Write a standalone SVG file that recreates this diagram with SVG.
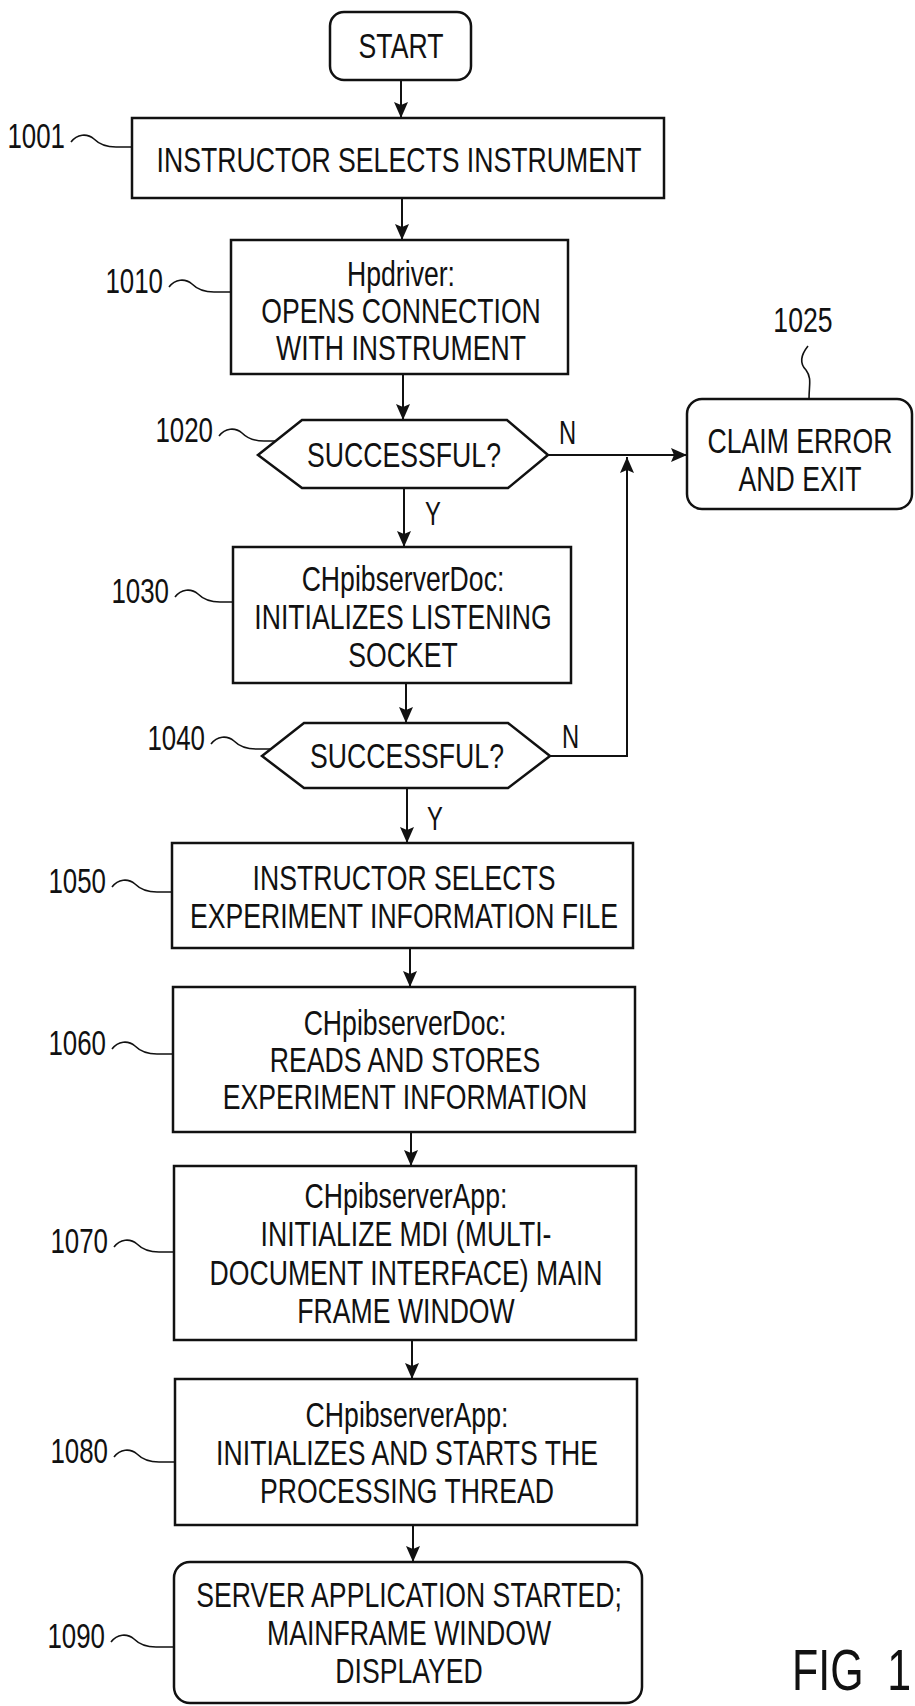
<svg xmlns="http://www.w3.org/2000/svg" width="915" height="1706" viewBox="0 0 915 1706">
<style>
.box{fill:#fff;stroke:#111;stroke-width:2.5}
.ln{fill:none;stroke:#111;stroke-width:2}
.cv{fill:none;stroke:#111;stroke-width:1.6}
.t{font-family:"Liberation Sans",Arial,sans-serif;font-size:36px;fill:#111;text-anchor:middle}
.lb{font-family:"Liberation Sans",Arial,sans-serif;font-size:35px;fill:#111;text-anchor:end}
.yn{font-family:"Liberation Sans",Arial,sans-serif;font-size:33px;fill:#111;text-anchor:start}
.fig{font-family:"Liberation Sans",Arial,sans-serif;font-size:58px;fill:#111;text-anchor:start}
</style>
<defs>
<marker id="ah" markerWidth="16" markerHeight="14" refX="16" refY="7" orient="auto" markerUnits="userSpaceOnUse">
<path d="M0,0 L16,7 L0,14 L3,7 Z" fill="#111"/>
</marker>
</defs>
<rect x="0" y="0" width="915" height="1706" fill="#fff"/>

<g id="connectors">
<line class="ln" x1="401" y1="80" x2="401" y2="118" marker-end="url(#ah)"/>
<line class="ln" x1="402" y1="198" x2="402" y2="240" marker-end="url(#ah)"/>
<line class="ln" x1="403" y1="374" x2="403" y2="420" marker-end="url(#ah)"/>
<line class="ln" x1="548" y1="455" x2="687" y2="455" marker-end="url(#ah)"/>
<line class="ln" x1="404" y1="488" x2="404" y2="547" marker-end="url(#ah)"/>
<line class="ln" x1="406" y1="683" x2="406" y2="723" marker-end="url(#ah)"/>
<polyline class="ln" points="550,756 627,756 627,457" marker-end="url(#ah)"/>
<line class="ln" x1="407" y1="788" x2="407" y2="843" marker-end="url(#ah)"/>
<line class="ln" x1="410" y1="948" x2="410" y2="987" marker-end="url(#ah)"/>
<line class="ln" x1="411" y1="1132" x2="411" y2="1166" marker-end="url(#ah)"/>
<line class="ln" x1="412" y1="1340" x2="412" y2="1379" marker-end="url(#ah)"/>
<line class="ln" x1="413" y1="1525" x2="413" y2="1562" marker-end="url(#ah)"/>
<text class="yn" transform="matrix(0.72 0 0 1 559 444)">N</text>
<text class="yn" transform="matrix(0.72 0 0 1 425 525)">Y</text>
<text class="yn" transform="matrix(0.72 0 0 1 562 748)">N</text>
<text class="yn" transform="matrix(0.72 0 0 1 427 830)">Y</text>
</g>

<g id="start">
<rect class="box" x="330" y="12" width="141" height="68" rx="14"/>
<text class="t" transform="matrix(0.74 0 0 1 401 58)">START</text>
</g>

<g id="n1001">
<rect class="box" x="132" y="118" width="532" height="80"/>
<text class="t" transform="matrix(0.74 0 0 1 399 172)">INSTRUCTOR SELECTS INSTRUMENT</text>
<text class="lb" transform="matrix(0.74 0 0 1 65 148)">1001</text>
<path class="cv" d="M71,142 c6,-8 16,-9 23,-3 c6,6 12,8 22,8 L132,147"/>
</g>

<g id="n1010">
<rect class="box" x="231" y="240" width="337" height="134"/>
<text class="t" transform="matrix(0.74 0 0 1 401 286)"><tspan x="0" y="0">Hpdriver:</tspan><tspan x="0" y="37">OPENS CONNECTION</tspan><tspan x="0" y="74">WITH INSTRUMENT</tspan></text>
<text class="lb" transform="matrix(0.74 0 0 1 163 293)">1010</text>
<path class="cv" d="M169,287 c6,-8 16,-9 23,-3 c6,6 12,8 22,8 L231,292"/>
</g>

<g id="n1020">
<polygon class="box" points="258,455 302,420 507,420 548,455 508,488 302,488"/>
<text class="t" transform="matrix(0.74 0 0 1 404 467)">SUCCESSFUL?</text>
<text class="lb" transform="matrix(0.74 0 0 1 213 442)">1020</text>
<path class="cv" d="M219,436 c6,-8 16,-9 23,-3 c6,6 12,8 22,8 L275,441"/>
</g>

<g id="n1025">
<rect class="box" x="687" y="399" width="225" height="110" rx="15"/>
<text class="t" transform="matrix(0.74 0 0 1 800 453)"><tspan x="0" y="0">CLAIM ERROR</tspan><tspan x="0" y="38">AND EXIT</tspan></text>
<text class="t" transform="matrix(0.74 0 0 1 803 332)">1025</text>
<path class="cv" d="M808,346 C800,356 800,364 806,370 C812,378 809,385 809,399"/>
</g>

<g id="n1030">
<rect class="box" x="233" y="547" width="338" height="136"/>
<text class="t" transform="matrix(0.74 0 0 1 403 591)"><tspan x="0" y="0">CHpibserverDoc:</tspan><tspan x="0" y="38">INITIALIZES LISTENING</tspan><tspan x="0" y="76">SOCKET</tspan></text>
<text class="lb" transform="matrix(0.74 0 0 1 169 603)">1030</text>
<path class="cv" d="M175,597 c6,-8 16,-9 23,-3 c6,6 12,8 22,8 L233,602"/>
</g>

<g id="n1040">
<polygon class="box" points="262,756 304,723 508,723 550,756 508,788 304,788"/>
<text class="t" transform="matrix(0.74 0 0 1 407 768)">SUCCESSFUL?</text>
<text class="lb" transform="matrix(0.74 0 0 1 205 750)">1040</text>
<path class="cv" d="M211,744 c6,-8 16,-9 23,-3 c6,6 12,8 22,8 L271,749"/>
</g>

<g id="n1050">
<rect class="box" x="172" y="843" width="461" height="105"/>
<text class="t" transform="matrix(0.74 0 0 1 404 890)"><tspan x="0" y="0">INSTRUCTOR SELECTS</tspan><tspan x="0" y="38">EXPERIMENT INFORMATION FILE</tspan></text>
<text class="lb" transform="matrix(0.74 0 0 1 106 893)">1050</text>
<path class="cv" d="M112,887 c6,-8 16,-9 23,-3 c6,6 12,8 22,8 L172,892"/>
</g>

<g id="n1060">
<rect class="box" x="173" y="987" width="462" height="145"/>
<text class="t" transform="matrix(0.74 0 0 1 405 1035)"><tspan x="0" y="0">CHpibserverDoc:</tspan><tspan x="0" y="37">READS AND STORES</tspan><tspan x="0" y="74">EXPERIMENT INFORMATION</tspan></text>
<text class="lb" transform="matrix(0.74 0 0 1 106 1055)">1060</text>
<path class="cv" d="M112,1049 c6,-8 16,-9 23,-3 c6,6 12,8 22,8 L173,1054"/>
</g>

<g id="n1070">
<rect class="box" x="174" y="1166" width="462" height="174"/>
<text class="t" transform="matrix(0.74 0 0 1 406 1208)"><tspan x="0" y="0">CHpibserverApp:</tspan><tspan x="0" y="38.5">INITIALIZE MDI (MULTI-</tspan><tspan x="0" y="77">DOCUMENT INTERFACE) MAIN</tspan><tspan x="0" y="115.5">FRAME WINDOW</tspan></text>
<text class="lb" transform="matrix(0.74 0 0 1 108 1253)">1070</text>
<path class="cv" d="M114,1247 c6,-8 16,-9 23,-3 c6,6 12,8 22,8 L174,1252"/>
</g>

<g id="n1080">
<rect class="box" x="175" y="1379" width="462" height="146"/>
<text class="t" transform="matrix(0.74 0 0 1 407 1427)"><tspan x="0" y="0">CHpibserverApp:</tspan><tspan x="0" y="38">INITIALIZES AND STARTS THE</tspan><tspan x="0" y="76">PROCESSING THREAD</tspan></text>
<text class="lb" transform="matrix(0.74 0 0 1 108 1463)">1080</text>
<path class="cv" d="M114,1457 c6,-8 16,-9 23,-3 c6,6 12,8 22,8 L175,1462"/>
</g>

<g id="n1090">
<rect class="box" x="174" y="1562" width="468" height="141" rx="16"/>
<text class="t" transform="matrix(0.74 0 0 1 409 1607)"><tspan x="0" y="0">SERVER APPLICATION STARTED;</tspan><tspan x="0" y="38">MAINFRAME WINDOW</tspan><tspan x="0" y="76">DISPLAYED</tspan></text>
<text class="lb" transform="matrix(0.74 0 0 1 105 1648)">1090</text>
<path class="cv" d="M111,1642 c6,-8 16,-9 23,-3 c6,6 12,8 22,8 L174,1647"/>
</g>

<g id="caption">
<text class="fig" transform="matrix(0.74 0 0 1 792 1690)" word-spacing="16">FIG 1</text>
</g>
</svg>
